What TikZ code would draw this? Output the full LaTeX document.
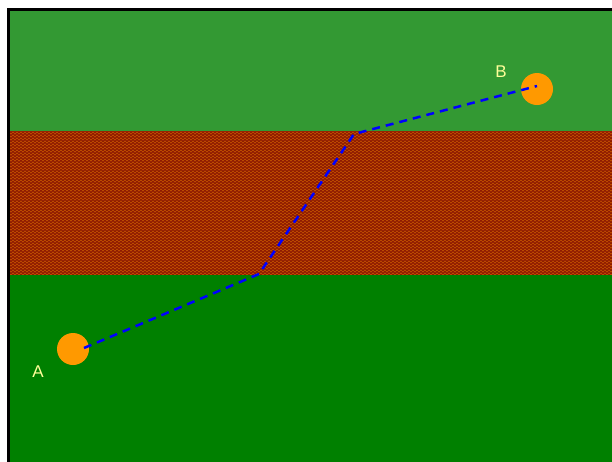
\documentclass[tikz,border=0pt]{standalone}
\usepackage{fontspec}
\setmainfont{Liberation Sans}
\usetikzlibrary{decorations.pathmorphing}
\definecolor{topgreen}{HTML}{339933}
\definecolor{botgreen}{HTML}{008000}
\definecolor{brick}{HTML}{8C1800}
\definecolor{brickline}{HTML}{C05000}
\definecolor{dot}{HTML}{FF9900}
\definecolor{lbl}{HTML}{FFFF99}
\definecolor{route}{HTML}{0000FF}
\tikzset{
  station/.style={circle, fill=dot, minimum size=32pt, inner sep=0pt},
  lab/.style={text=lbl, font=\fontsize{17pt}{17pt}\selectfont, inner sep=0pt},
  routeline/.style={route, dashed, dash pattern=on 8pt off 6pt, line width=2.5pt},
  zz/.style={brickline, line width=0.6pt, decorate, decoration={zigzag, segment length=4pt, amplitude=1.2pt}}
}
\begin{document}
\begin{tikzpicture}[x=1pt,y=-1pt]
\useasboundingbox (0,0) rectangle (612,461);
\clip (0,0) rectangle (612,461);
\fill[white] (0,0) rectangle (612,461);
% bands
\fill[topgreen] (10,10) rectangle (620,131);
\fill[brick] (10,131) rectangle (620,275);
\begin{scope}
\clip (10,131) rectangle (620,275);
\foreach \yy in {130,133,...,278} {
  \draw[zz] (8,\yy) -- (620,\yy);
}
\end{scope}
\fill[botgreen] (10,275) rectangle (620,470);
% frame
\draw[black, line width=3pt] (8.5,480) -- (8.5,9.5) -- (640,9.5);
% stations
\node[station] (A) at (73,349) {};
\node[station] (B) at (537,89) {};
\node[lab] (la) at (38,372) {A};
\node[lab] (lb) at (501,72) {B};
% route
\coordinate (a0) at (84,348);
\coordinate (p1) at (259,274);
\coordinate (p2) at (354,134);
\coordinate (b0) at (537,86);
\draw[routeline] (a0) -- (p1) -- (p2) -- (b0);
\end{tikzpicture}
\end{document}
